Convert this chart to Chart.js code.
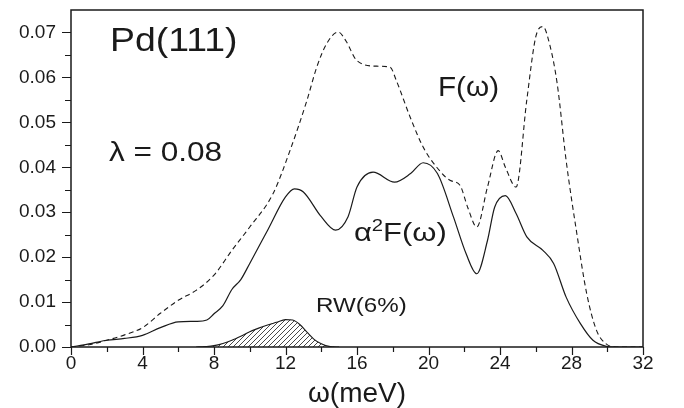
<!DOCTYPE html>
<html>
<head>
<meta charset="utf-8">
<script src="https://cdn.jsdelivr.net/npm/chart.js@4.4.0/dist/chart.umd.min.js"></script>
<style>
  body { margin: 0; background: #fff; }
</style>
</head>
<body>
<canvas id="chart" width="684" height="408"></canvas>
<script>
// phonon density of states F(w), dashed
var fOmega  = [0, 1, 2, 3, 4, 5, 6, 7, 8, 9, 10, 11.3, 12.25, 13.2, 13.75, 14.3, 14.95, 15.4, 15.98, 17.1, 17.85, 18.2, 18.97, 19.7, 20.46, 21.2, 21.76, 22.2, 22.7, 23.3, 23.9, 24.3, 24.9, 25.5, 26.0, 26.4, 26.8, 27.2, 27.7, 28.3, 28.85, 29.4, 29.9, 30.5, 32];
var fValues = [0, 0.0005, 0.0015, 0.0027, 0.0043, 0.0075, 0.0104, 0.0126, 0.016, 0.0215, 0.0267, 0.0341, 0.0437, 0.0549, 0.0623, 0.0675, 0.0701, 0.068, 0.0638, 0.0625, 0.0623, 0.0593, 0.0512, 0.0445, 0.040, 0.0371, 0.036, 0.031, 0.0267, 0.0356, 0.0437, 0.040, 0.0356, 0.055, 0.069, 0.0713, 0.067, 0.0586, 0.0415, 0.0252, 0.0119, 0.0037, 0.0008, 0, 0];

// Eliashberg function a2F(w), solid
var a2fOmega  = [0, 1, 2, 3, 4, 5, 6, 7, 7.6, 8, 8.5, 9, 9.5, 10, 11, 12, 12.5, 13, 14, 14.8, 15.5, 16, 16.9, 18.1, 19, 19.7, 20.5, 21.4, 22.1, 22.7, 23.3, 23.7, 24.3, 24.9, 25.5, 26.4, 27, 27.7, 28.5, 29.2, 29.9, 30.5, 32];
var a2fValues = [0, 0.0007, 0.0015, 0.0019, 0.0026, 0.0043, 0.0056, 0.0057, 0.006, 0.0074, 0.0092, 0.0128, 0.015, 0.0186, 0.026, 0.0334, 0.0352, 0.0345, 0.029, 0.026, 0.029, 0.0356, 0.0389, 0.0367, 0.0386, 0.041, 0.0386, 0.0289, 0.0208, 0.0163, 0.0237, 0.0311, 0.0337, 0.0297, 0.0245, 0.0215, 0.0186, 0.0111, 0.0052, 0.0015, 0.0002, 0, 0];

// Rayleigh wave contribution RW(6%), hatched
var rwOmega  = [7, 7.5, 8, 8.5, 9, 9.5, 10, 10.5, 11, 11.5, 12, 12.4, 12.8, 13.2, 13.6, 14, 14.5, 15];
var rwValues = [0, 0.0001, 0.0003, 0.0008, 0.0015, 0.0024, 0.0034, 0.0042, 0.0049, 0.0055, 0.0061, 0.006, 0.005, 0.0033, 0.0017, 0.0007, 0.0001, 0];

var xTicks = [0, 4, 8, 12, 16, 20, 24, 28, 32];
var xMinor = [2, 6, 10, 14, 18, 22, 26, 30];
var yTicks = [0, 0.01, 0.02, 0.03, 0.04, 0.05, 0.06, 0.07];
var yMinor = [0.005, 0.015, 0.025, 0.035, 0.045, 0.055, 0.065];

var FONT = '"Liberation Sans", Arial, Helvetica, sans-serif';
var INK = '#1a1a1a';

function pts(xs, ys) {
    return xs.map(function (x, i) { return { x: x, y: ys[i] }; });
}

// diagonal hatch for the RW area
var hatch = (function () {
    var c = document.createElement('canvas');
    c.width = 5; c.height = 5;
    var g = c.getContext('2d');
    g.strokeStyle = '#333';
    g.lineWidth = 0.9;
    g.beginPath();
    g.moveTo(0, 5); g.lineTo(5, 0);
    g.moveTo(-1, 1); g.lineTo(1, -1);
    g.moveTo(4, 6); g.lineTo(6, 4);
    g.stroke();
    return g.createPattern(c, 'repeat');
})();

var frame = {
    id: 'frame',
    afterDatasetsDraw: function (chart) {
        var ctx = chart.ctx, a = chart.chartArea;
        var xs = chart.scales.x, ys = chart.scales.y;
        ctx.save();
        ctx.strokeStyle = INK;
        ctx.lineWidth = 1.5;
        ctx.strokeRect(a.left, a.top, a.right - a.left, a.bottom - a.top);

        ctx.lineWidth = 1.2;
        ctx.beginPath();
        xTicks.forEach(function (v) {
            var p = Math.round(xs.getPixelForValue(v)) + 0.5;
            ctx.moveTo(p, a.bottom); ctx.lineTo(p, a.bottom + 8);
        });
        xMinor.forEach(function (v) {
            var p = Math.round(xs.getPixelForValue(v)) + 0.5;
            ctx.moveTo(p, a.bottom); ctx.lineTo(p, a.bottom + 5);
        });
        yTicks.forEach(function (v) {
            var p = Math.round(ys.getPixelForValue(v)) + 0.5;
            ctx.moveTo(a.left, p); ctx.lineTo(a.left - 9, p);
        });
        yMinor.forEach(function (v) {
            var p = Math.round(ys.getPixelForValue(v)) + 0.5;
            ctx.moveTo(a.left, p); ctx.lineTo(a.left - 6, p);
        });
        ctx.stroke();

        // labels inside the plot (the source lettering is a little wide)
        ctx.fillStyle = INK;
        ctx.textBaseline = 'alphabetic';
        ctx.textAlign = 'left';
        function put(parts, x, y, sx) {
            ctx.save();
            ctx.translate(xs.getPixelForValue(x), ys.getPixelForValue(y));
            ctx.scale(sx, 1);
            var cx = 0;
            parts.forEach(function (p) {
                ctx.font = p[1] + 'px ' + FONT;
                ctx.fillText(p[0], cx, -(p[2] || 0));
                cx += ctx.measureText(p[0]).width;
            });
            ctx.restore();
        }
        put([['Pd(111)', 34]], 2.18, 0.0658, 1.1);
        put([['\u03bb = 0.08', 27]], 2.12, 0.0413, 1.17);
        put([['F(\u03c9)', 27]], 20.53, 0.0558, 1.1);
        put([['\u03b1', 26], ['2', 17, 10], ['F(\u03c9)', 26]], 15.83, 0.0237, 1.19);
        put([['RW(6%)', 21]], 13.7, 0.0079, 1.15);
        ctx.restore();
    }
};

var ctx = document.getElementById('chart').getContext('2d');
var myChart = new Chart(ctx, {
    type: 'line',
    data: {
        datasets: [{
            label: 'RW(6%)',
            data: pts(rwOmega, rwValues),
            borderColor: INK,
            backgroundColor: hatch,
            fill: 'origin',
            borderWidth: 1.1
        }, {
            label: 'a2F',
            data: pts(a2fOmega, a2fValues),
            borderColor: INK,
            fill: false,
            borderWidth: 1.2
        }, {
            label: 'F',
            data: pts(fOmega, fValues),
            borderColor: INK,
            borderDash: [5, 3.5],
            fill: false,
            borderWidth: 1.1
        }]
    },
    options: {
        responsive: false,
        animation: false,
        layout: { padding: { top: 10, right: 41, left: 0, bottom: 0 } },
        elements: {
            point: { radius: 0 },
            line: { cubicInterpolationMode: 'monotone' }
        },
        plugins: {
            legend: { display: false },
            tooltip: { enabled: false }
        },
        scales: {
            x: {
                type: 'linear',
                min: 0,
                max: 32,
                afterBuildTicks: function (s) { s.ticks = xTicks.map(function (v) { return { value: v }; }); },
                afterFit: function (s) { s.height = 61; s.paddingLeft = 0; s.paddingRight = 0; },
                grid: { display: false, drawTicks: false },
                border: { display: false },
                ticks: { padding: 5, color: INK, font: { family: FONT, size: 19 }, maxRotation: 0 },
                title: {
                    display: true,
                    text: '\u03c9(meV)',
                    color: INK,
                    font: { family: FONT, size: 28, lineHeight: 1 },
                    padding: 0
                }
            },
            y: {
                type: 'linear',
                min: 0,
                max: 0.075,
                afterBuildTicks: function (s) { s.ticks = yTicks.map(function (v) { return { value: v }; }); },
                afterFit: function (s) { s.width = 71; s.paddingTop = 0; s.paddingBottom = 0; },
                grid: { display: false, drawTicks: false },
                border: { display: false },
                ticks: {
                    padding: 15,
                    color: INK,
                    font: { family: FONT, size: 19 },
                    callback: function (v) { return v.toFixed(2); }
                }
            }
        }
    },
    plugins: [frame]
});
</script>
</body>
</html>
